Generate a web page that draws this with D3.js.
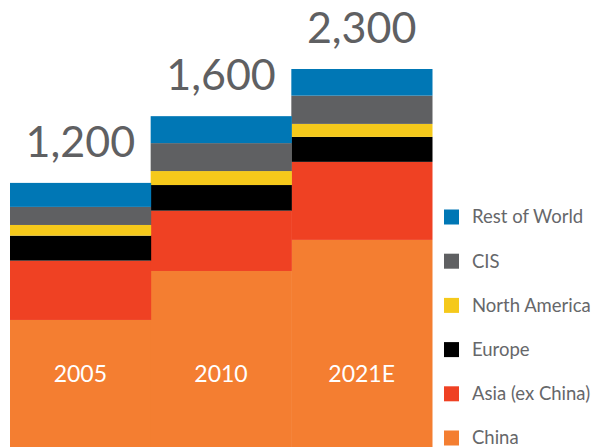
<!DOCTYPE html>
<html>
<head>
<meta charset="utf-8">
<style>
  body { margin: 0; background: #fff; }
  svg { display: block; font-family: Lato, "Open Sans", sans-serif; }
  .total { fill: #5f6062; font-size: 43px; font-weight: 400; }
  .cat { fill: #fff; font-size: 23px; }
  .legend text { fill: #66676a; font-size: 18.5px; }
</style>
<title>Stacked demand</title>
</head>
<body>
<script src="https://cdn.jsdelivr.net/npm/d3@7"></script>
<script>

// Categories and stacked series (bottom to top)
var years = ["2005", "2010", "2021E"];
var totals = ["1,200", "1,600", "2,300"];
var regions = ["China", "Asia (ex China)", "Europe", "North America", "CIS", "Rest of World"];

var china      = [773, 1071, 1260];
var asiaExCh   = [361, 367, 475];
var europe     = [152, 156, 152];
var northAm    = [65, 85, 79];
var cis        = [110, 170, 172];
var restWorld  = [146, 164, 162];

var colors = ["#f47e31", "#ef4123", "#000000", "#f5c91b", "#5f6062", "#0077b5"];

var width = 595, height = 447;

var rows = years.map(function(y, i) {
  return {
    year: y,
    "China": china[i],
    "Asia (ex China)": asiaExCh[i],
    "Europe": europe[i],
    "North America": northAm[i],
    "CIS": cis[i],
    "Rest of World": restWorld[i]
  };
});

var stack = d3.stack().keys(regions);
var series = stack(rows);

var x = d3.scaleBand()
    .domain(years)
    .range([10, 432])
    .padding(0);

var y = d3.scaleLinear()
    .domain([0, 2300])
    .range([447, 69]);

var color = d3.scaleOrdinal().domain(regions).range(colors);

var svg = d3.select("body").append("svg")
    .attr("width", width)
    .attr("height", height);

svg.append("g")
  .selectAll("g")
  .data(series)
  .enter().append("g")
    .attr("fill", d => color(d.key))
  .selectAll("rect")
  .data(d => d)
  .enter().append("rect")
    .attr("x", d => x(d.data.year))
    .attr("y", d => y(d[1]))
    .attr("width", x.bandwidth() + 0.5)
    .attr("height", d => y(d[0]) - y(d[1]));

// category labels inside the bars
svg.append("g")
  .selectAll("text")
  .data(years)
  .enter().append("text")
    .attr("class", "cat")
    .attr("x", d => x(d) + x.bandwidth() / 2)
    .attr("y", 382)
    .attr("text-anchor", "middle")
    .text(d => d);

// totals above the bars
var topSeries = series[series.length - 1];

svg.append("g")
  .selectAll("text")
  .data(years)
  .enter().append("text")
    .attr("class", "total")
    .attr("x", d => x(d) + x.bandwidth() / 2)
    .attr("y", (d, i) => y(topSeries[i][1]) - 26)
    .attr("text-anchor", "middle")
    .text((d, i) => totals[i]);

// legend, top entry is the top of the stack
var legendKeys = regions.slice().reverse();
var ly = d3.scalePoint().domain(legendKeys).range([217, 438]);

var leg = svg.append("g").attr("class", "legend")
  .selectAll("g")
  .data(legendKeys)
  .enter().append("g")
    .attr("transform", d => `translate(444,${ly(d)})`);

leg.append("rect")
    .attr("x", 0)
    .attr("y", -7.5)
    .attr("width", 15)
    .attr("height", 15)
    .attr("fill", d => color(d));

leg.append("text")
    .attr("x", 28)
    .attr("y", 0)
    .attr("dy", "0.35em")
    .text(d => d);

</script>
</body>
</html>
